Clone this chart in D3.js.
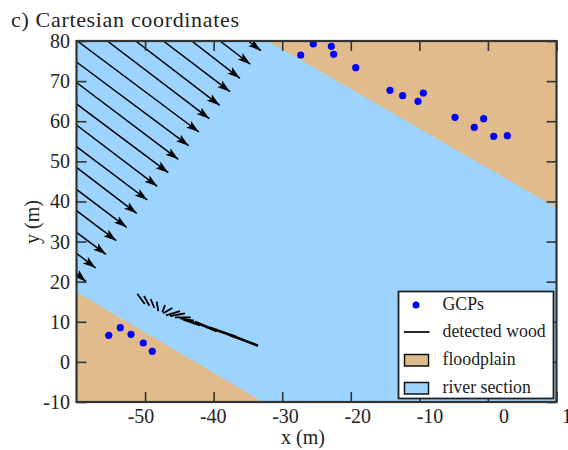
<!DOCTYPE html>
<html><head><meta charset="utf-8">
<script src="https://cdn.jsdelivr.net/npm/d3@7"></script>
<style>html,body{margin:0;padding:0;background:#fff;overflow:hidden}svg{display:block}text{font-family:"Liberation Serif",serif;fill:#222}</style>
</head><body><svg id="c" width="568" height="450"></svg>
<script>
const xTicks=[-50,-40,-30,-20,-10,0,10];
const yTicks=[-10,0,10,20,30,40,50,60,70,80];
const floodUpperX=[-32.1,10,10],floodUpperY=[80,38.4,80];
const floodLowerX=[-60,-32.8,-60],floodLowerY=[17.4,-10,-10];
const gcpX=[-27.3,-25.47,-22.84,-22.49,-19.28,-14.28,-12.43,-9.42,-10.2,-4.8,-1.99,-.62,.84,2.83,-55.3,-53.61,-52.05,-50.26,-48.95];
const gcpY=[76.51,79.25,78.68,76.68,73.34,67.71,66.36,67.04,64.97,60.98,58.48,60.63,56.24,56.39,6.63,8.52,6.88,4.71,2.64];
const arrowX0=[-34.95,-39.07,-43.2,-47.34,-51.37,-55.51,-59.88,-60,-60,-60,-60,-60,-60,-60,-60,-60,-60,-60];
const arrowY0=[80,80,80,80,80,80,80,74.76,69.65,64.3,59.06,53.65,48.51,43.03,37.69,32.31,27.07,22.08];
const arrowX1=[-33.1,-34.65,-36.16,-37.61,-39.12,-40.63,-42.14,-43.64,-45.15,-46.61,-48.22,-49.67,-51.22,-52.68,-54.2,-55.7,-57.2,-58.61];
const arrowY1=[77.6,74.2,70.7,67.36,63.97,60.63,57.31,53.9,50.51,47.17,43.77,40.36,37.04,33.55,30.21,26.82,23.4,20];
const woodX0=[-51.13,-50.16,-49.18,-48.3,-47.49,-47.34,-46.95,-46.36,-45.64,-44.91,-44.43,-42.72,-40.53,-37.61];
const woodY0=[17,16.42,15.68,15,12.36,12.11,11.61,11.44,11.11,10.86,10.62,9.94,8.52,6.7];
const woodX1=[-50.05,-49.38,-48.65,-48.07,-47.09,-46.03,-44.91,-44.18,-43.35,-42.86,-41.99,-39.55,-36.64,-33.53];
const woodY1=[14.43,14.01,13.43,12.68,14.18,13.43,12.68,12.11,11.11,10.27,9.19,7.7,6.13,4.03];
const legendLabels=["GCPs","detected wood","floodplain","river section"];
const titleText="c) Cartesian coordinates",xTitle="x (m)",yTitle="y (m)";

const RIVER="#9DD3FF",FLOOD="#E0BB8B",INK="#333";
const svg=d3.select("#c");
const x=d3.scaleLinear([-60,10],[76.5,556.5]);
const y=d3.scaleLinear([-10,80],[402,41]);
const xLabel=d3.scaleLinear([-50,-10,0,10],[141,430,504,572]);
const defs=svg.append("defs");
defs.append("clipPath").attr("id","plot").append("rect").attr("x",x(-60)).attr("y",y(80)).attr("width",x(10)-x(-60)).attr("height",y(-10)-y(80));
defs.append("marker").attr("id","head").attr("viewBox","0 0 13 9").attr("refX",13).attr("refY",4.5)
  .attr("markerWidth",13).attr("markerHeight",9).attr("markerUnits","userSpaceOnUse").attr("orient","auto")
  .append("path").attr("d","M0,0.4L13,4.5L0,8.6L3,4.5Z").attr("fill","#000");

const g=svg.append("g").attr("clip-path","url(#plot)");
g.append("rect").attr("x",x(-60)).attr("y",y(80)).attr("width",x(10)-x(-60)).attr("height",y(-10)-y(80)).attr("fill",RIVER);
const poly=(xs,ys)=>xs.map((v,i)=>[x(v),y(ys[i])].join(",")).join(" ");
g.append("polygon").attr("points",poly(floodUpperX,floodUpperY)).attr("fill",FLOOD);
g.append("polygon").attr("points",poly(floodLowerX,floodLowerY)).attr("fill",FLOOD);
g.selectAll(".arrow").data(arrowX0).join("line").attr("class","arrow")
  .attr("x1",(d,i)=>x(d)).attr("y1",(d,i)=>y(arrowY0[i])).attr("x2",(d,i)=>x(arrowX1[i])).attr("y2",(d,i)=>y(arrowY1[i]))
  .attr("stroke","#000").attr("stroke-width",1.5).attr("marker-end","url(#head)");
g.selectAll(".wood").data(woodX0).join("line").attr("class","wood")
  .attr("x1",d=>x(d)).attr("y1",(d,i)=>y(woodY0[i])).attr("x2",(d,i)=>x(woodX1[i])).attr("y2",(d,i)=>y(woodY1[i]))
  .attr("stroke","#000").attr("stroke-width",(d,i)=>i>=10?2.6:1.8);
g.selectAll(".gcp").data(gcpX).join("circle").attr("class","gcp")
  .attr("cx",d=>x(d)).attr("cy",(d,i)=>y(gcpY[i])).attr("r",3.6).attr("fill","#0000FF");

function style(a){a.select(".domain").remove();a.selectAll("line").attr("stroke",INK).attr("stroke-width",1.6);a.selectAll("text").remove();}
svg.append("g").attr("transform",`translate(0,${y(-10)})`).call(d3.axisBottom(x).tickValues(xTicks).tickSize(-10)).call(style);
svg.append("g").attr("transform",`translate(0,${y(80)})`).call(d3.axisTop(x).tickValues(xTicks).tickSize(-10)).call(style);
svg.append("g").attr("transform",`translate(${x(-60)},0)`).call(d3.axisLeft(y).tickValues(yTicks).tickSize(-10)).call(style);
svg.append("g").attr("transform",`translate(${x(10)},0)`).call(d3.axisRight(y).tickValues(yTicks).tickSize(-10)).call(style);
svg.append("rect").attr("x",x(-60)).attr("y",y(80)).attr("width",x(10)-x(-60)).attr("height",y(-10)-y(80)).attr("fill","none").attr("stroke",INK).attr("stroke-width",2.2);

svg.selectAll(".xl").data(xTicks).join("text").attr("class","xl").attr("x",d=>xLabel(d)).attr("y",423).attr("text-anchor","middle").attr("font-size",20).text(d=>d);
svg.selectAll(".yl").data(yTicks).join("text").attr("class","yl").attr("x",70).attr("y",d=>y(d)+7).attr("text-anchor","end").attr("font-size",20).text(d=>d);
svg.append("text").attr("x",303).attr("y",444).attr("text-anchor","middle").attr("font-size",20).text(xTitle);
svg.append("text").attr("transform","translate(39,222) rotate(-90)").attr("text-anchor","middle").attr("font-size",20).text(yTitle);
svg.append("text").attr("x",11).attr("y",27).attr("font-size",22).attr("textLength",228).attr("lengthAdjust","spacing").text(titleText);

const L=svg.append("g");
L.append("rect").attr("x",398.5).attr("y",291.5).attr("width",155).attr("height",107).attr("fill","#fff").attr("stroke","#222").attr("stroke-width",1.8);
const rowY=[305,332,360,388];
L.selectAll("text").data(legendLabels).join("text").attr("x",442.5).attr("y",(d,i)=>rowY[i]+5).attr("font-size",17.8).text(d=>d);
L.append("circle").attr("cx",416).attr("cy",rowY[0]).attr("r",3.5).attr("fill","#0000FF");
L.append("line").attr("x1",404).attr("x2",429.5).attr("y1",rowY[1]).attr("y2",rowY[1]).attr("stroke","#000").attr("stroke-width",1.7);
[[2,FLOOD],[3,RIVER]].forEach(([i,c])=>L.append("rect").attr("x",404.5).attr("y",rowY[i]-5.5).attr("width",24).attr("height",11.5).attr("fill",c).attr("stroke","#111").attr("stroke-width",1.5));
</script></body></html>
